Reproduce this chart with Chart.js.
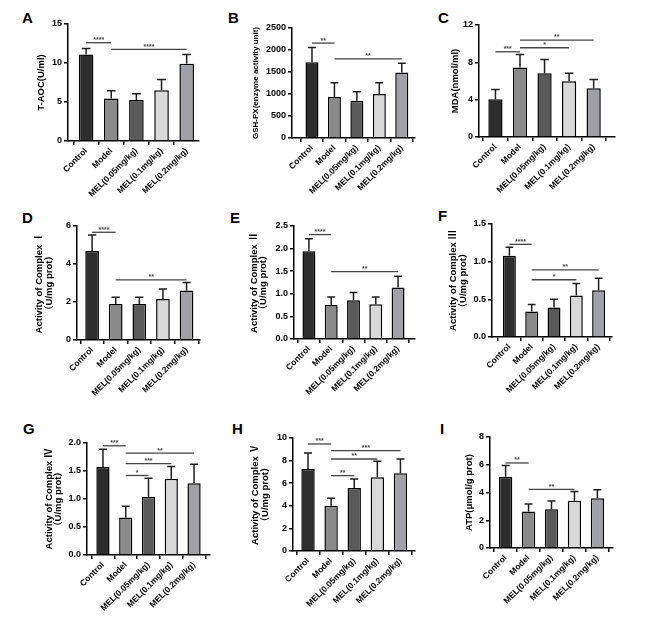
<!DOCTYPE html>
<html><head><meta charset="utf-8">
<script src="https://cdn.jsdelivr.net/npm/chart.js@4/dist/chart.umd.min.js"></script>
<style>
html,body{margin:0;padding:0;background:#fff}
body{width:659px;height:619px;position:relative;overflow:hidden;font-family:"Liberation Sans",Arial,sans-serif}
canvas.c{position:absolute}
.lab{position:absolute;font:bold 15px "Liberation Sans",Arial,sans-serif;color:#000;line-height:1}
</style></head><body>
<div class="lab" style="left:22px;top:10px">A</div>
<div class="lab" style="left:228px;top:10px">B</div>
<div class="lab" style="left:438px;top:10px">C</div>
<div class="lab" style="left:22px;top:210px">D</div>
<div class="lab" style="left:230px;top:210px">E</div>
<div class="lab" style="left:438px;top:208px">F</div>
<div class="lab" style="left:23px;top:421px">G</div>
<div class="lab" style="left:232px;top:421px">H</div>
<div class="lab" style="left:440px;top:421px">I</div>
<script>
// ---------- data ----------
const categories = ['Control','Model','MEL(0.05mg/kg)','MEL(0.1mg/kg)','MEL(0.2mg/kg)'];

const taocMean = [11.1, 5.45, 5.25, 6.5, 9.9];
const taocSD   = [0.77, 0.98, 0.8, 1.4, 1.2];
const taocSig  = [[0,1,12.6,'****'],[1,4,11.74,'****']];

const gshMean = [1722, 930, 846, 998, 1486];
const gshSD   = [336, 328, 206, 260, 214];
const gshSig  = [[0,1,2157,'**'],[1,4,1799,'**']];

const mdaMean = [4.05, 7.45, 6.84, 5.98, 5.23];
const mdaSD   = [1.04, 1.4, 1.47, 0.86, 0.93];
const mdaSig  = [[0,1,9.13,'***'],[1,3,9.56,'*'],[1,4,10.39,'**']];

const c1Mean = [4.68, 1.9, 1.9, 2.16, 2.61];
const c1SD   = [0.85, 0.35, 0.35, 0.52, 0.42];
const c1Sig  = [[0,1,5.67,'****'],[1,4,3.16,'**']];

const c2Mean = [1.94, 0.75, 0.86, 0.77, 1.14];
const c2SD   = [0.28, 0.18, 0.17, 0.16, 0.25];
const c2Sig  = [[0,1,2.31,'****'],[1,4,1.49,'**']];

const c3Mean = [1.08, 0.34, 0.39, 0.55, 0.62];
const c3SD   = [0.11, 0.09, 0.11, 0.16, 0.16];
const c3Sig  = [[0,1,1.23,'****'],[1,4,0.89,'**'],[1,3,0.76,'*']];

const c4Mean = [1.57, 0.67, 1.04, 1.36, 1.28];
const c4SD   = [0.32, 0.2, 0.33, 0.22, 0.34];
const c4Sig  = [[0,1,1.95,'***'],[1,4,1.82,'**'],[1,3,1.63,'***'],[1,2,1.42,'*']];

const c5Mean = [7.26, 4.01, 5.58, 6.52, 6.87];
const c5SD   = [1.41, 0.65, 0.79, 1.42, 1.27];
const c5Sig  = [[0,1,9.47,'***'],[1,4,8.88,'***'],[1,3,8.14,'**'],[1,2,6.67,'**']];

const atpMean = [5.13, 2.63, 2.79, 3.41, 3.58];
const atpSD   = [0.81, 0.54, 0.6, 0.67, 0.62];
const atpSig  = [[0,1,6.13,'**'],[1,3,4.22,'**']];

const yTitles = {
  A: 'T-AOC(U/ml)',
  B: 'GSH-PX(enzyme activity unit)',
  C: 'MDA(nmol/ml)',
  D: ['Activity of Complex Ⅰ','（U/mg prot）'],
  E: ['Activity of Complex Ⅱ','（U/mg prot）'],
  F: ['Activity of Complex Ⅲ','（U/mg prot）'],
  G: ['Activity of Complex Ⅳ','（U/mg prot）'],
  H: ['Activity of Complex Ⅴ','（U/mg prot）'],
  I: 'ATP(μmol/g prot)'
};

// ---------- styles / layout ----------
const barColors = ['#2d2d2d','#8a8a8a','#5a5a5a','#d9d9d9','#a0a0a8'];
const FONT = '"Liberation Sans", Arial, sans-serif';
const TFONT = '"Liberation Sans", Arial, "Noto Sans CJK SC", sans-serif';

const panels = [
  {key:'A', mean:taocMean, sd:taocSD, sig:taocSig, ymax:15, step:5, dec:0,
   cell:{x:0,y:0,w:215,h:200}, area:{l:68,t:24,r:199,b:141}, xr:[-0.72,4.49], tfs:9.5, tpad:37},
  {key:'B', mean:gshMean, sd:gshSD, sig:gshSig, ymax:2500, step:500, dec:0,
   cell:{x:215,y:0,w:215,h:200}, area:{l:292,t:28,r:415,b:138}, xr:[-0.89,4.59], tfs:8, tpad:37},
  {key:'C', mean:mdaMean, sd:mdaSD, sig:mdaSig, ymax:12, step:4, dec:0,
   cell:{x:430,y:0,w:229,h:200}, area:{l:479,t:25,r:615,b:137}, xr:[-0.67,4.87], tfs:9.5, tpad:21},
  {key:'D', mean:c1Mean, sd:c1SD, sig:c1Sig, ymax:6, step:2, dec:0,
   cell:{x:0,y:200,w:215,h:210}, area:{l:77,t:226,r:200,b:340}, xr:[-0.64,4.57], tfs:9.5, tpad:35},
  {key:'E', mean:c2Mean, sd:c2SD, sig:c2Sig, ymax:2.5, step:0.5, dec:1,
   cell:{x:215,y:200,w:215,h:210}, area:{l:294,t:226,r:415,b:339}, xr:[-0.67,4.76], tfs:9.5, tpad:34.5},
  {key:'F', mean:c3Mean, sd:c3SD, sig:c3Sig, ymax:1.5, step:0.5, dec:1,
   cell:{x:430,y:200,w:229,h:210}, area:{l:492,t:224,r:612,b:337}, xr:[-0.78,4.6], tfs:9.5, tpad:19},
  {key:'G', mean:c4Mean, sd:c4SD, sig:c4Sig, ymax:2.0, step:0.5, dec:1,
   cell:{x:0,y:410,w:215,h:209}, area:{l:87,t:443,r:210,b:555}, xr:[-0.7,4.7], tfs:9.5, tpad:44.5},
  {key:'H', mean:c5Mean, sd:c5SD, sig:c5Sig, ymax:10, step:2, dec:0,
   cell:{x:215,y:410,w:215,h:209}, area:{l:293,t:438,r:415,b:551}, xr:[-0.65,4.63], tfs:9.5, tpad:36},
  {key:'I', mean:atpMean, sd:atpSD, sig:atpSig, ymax:8, step:2, dec:0,
   cell:{x:430,y:410,w:229,h:209}, area:{l:490,t:437,r:613,b:548}, xr:[-0.68,4.68], tfs:9.5, tpad:35}
];

function makePanel(p){
  const cv = document.createElement('canvas');
  cv.className = 'c';
  cv.width = p.cell.w; cv.height = p.cell.h;
  cv.style.left = p.cell.x + 'px'; cv.style.top = p.cell.y + 'px';
  cv.style.width = p.cell.w + 'px'; cv.style.height = p.cell.h + 'px';
  document.body.appendChild(cv);
  const yW = p.area.l - p.cell.x;
  const padTop = p.area.t - p.cell.y;
  const padRight = p.cell.x + p.cell.w - p.area.r;
  const xH = p.cell.y + p.cell.h - p.area.b;

  const overlay = {
    id: 'overlay' + p.key,
    afterDatasetsDraw(chart){
      const ctx = chart.ctx, xs = chart.scales.x, ys = chart.scales.y;
      const meta = chart.getDatasetMeta(0);
      ctx.save();
      // error bars (upper only)
      ctx.strokeStyle = '#1e1e1e'; ctx.lineWidth = 1.5;
      meta.data.forEach((bar, i) => {
        const x = bar.x, y0 = bar.y;
        const y1 = ys.getPixelForValue(p.mean[i] + p.sd[i]);
        const cap = bar.width * 0.3;
        ctx.beginPath();
        ctx.moveTo(x, y0); ctx.lineTo(x, y1);
        ctx.moveTo(x - cap, y1); ctx.lineTo(x + cap, y1);
        ctx.stroke();
      });
      // significance brackets
      ctx.strokeStyle = '#444'; ctx.fillStyle = '#444'; ctx.lineWidth = 1.3;
      ctx.font = 'bold 7px ' + FONT;
      ctx.textAlign = 'center'; ctx.textBaseline = 'bottom';
      p.sig.forEach(s => {
        const xa = xs.getPixelForValue(s[0]), xb = xs.getPixelForValue(s[1]);
        const y = ys.getPixelForValue(s[2]);
        ctx.beginPath(); ctx.moveTo(xa, y); ctx.lineTo(xb, y); ctx.stroke();
        ctx.fillText(s[3], (xa + xb) / 2, y + 1);
      });
      ctx.restore();
    }
  };

  new Chart(cv, {
    type: 'bar',
    data: {
      datasets: [{
        data: p.mean.map((v, i) => ({x: i, y: v})),
        backgroundColor: barColors,
        borderColor: '#000',
        borderWidth: 1.5,
        barPercentage: 0.58,
        categoryPercentage: 1
      }]
    },
    options: {
      responsive: false,
      animation: false,
      devicePixelRatio: 1,
      layout: {padding: {top: padTop, right: padRight, left: 0, bottom: 0}},
      plugins: {legend: {display: false}, tooltip: {enabled: false}},
      scales: {
        x: {
          type: 'linear', min: p.xr[0], max: p.xr[1], offset: false,
          afterBuildTicks(s){ s.ticks = categories.map((c, i) => ({value: i})); },
          afterFit(s){ s.height = xH; },
          grid: {display: true, drawOnChartArea: false, drawTicks: true, tickLength: 4, color: '#000', lineWidth: 1.5},
          border: {display: true, color: '#000', width: 1.5},
          ticks: {
            autoSkip: false, minRotation: 45, maxRotation: 45, padding: 1,
            color: '#000', font: {family: FONT, size: 8.5, weight: 'bold'},
            callback: (v) => categories[v]
          }
        },
        y: {
          type: 'linear', min: 0, max: p.ymax,
          afterFit(s){ s.width = yW; },
          grid: {display: true, drawOnChartArea: false, drawTicks: true, tickLength: 4, color: '#000', lineWidth: 1.5},
          border: {display: true, color: '#000', width: 1.5},
          ticks: {
            stepSize: p.step, padding: 2, color: '#000',
            font: {family: FONT, size: 9, weight: 'bold'},
            callback: (v) => Number(v).toFixed(p.dec)
          },
          title: {
            display: true, text: yTitles[p.key], color: '#000',
            font: {family: TFONT, size: p.tfs, weight: 'bold', lineHeight: 1.0},
            padding: {top: p.tpad, bottom: 0}
          }
        }
      }
    },
    plugins: [overlay]
  });
}
panels.forEach(makePanel);
</script>
</body></html>
